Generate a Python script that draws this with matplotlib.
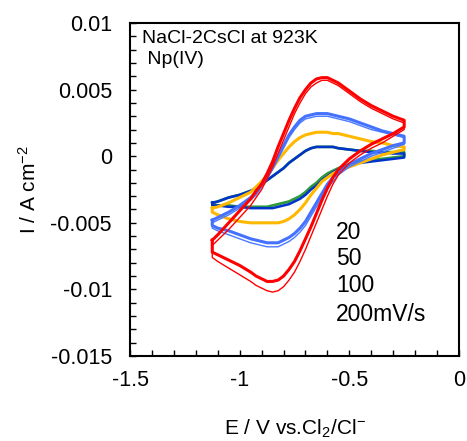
import numpy as np
import matplotlib
matplotlib.use("Agg")
from matplotlib import pyplot as plt
from matplotlib.ticker import MultipleLocator

plt.rcParams['font.family'] = ['Liberation Sans', 'DejaVu Sans']
plt.rcParams['mathtext.fontset'] = 'custom'
plt.rcParams['mathtext.rm'] = 'Liberation Sans'
plt.rcParams['mathtext.it'] = 'Liberation Sans'

# potential grid (V vs Cl2/Cl-), shared by every sweep
e_grid = [-1.125, -1.1, -1.05, -1.0, -0.95, -0.925, -0.9, -0.875, -0.85, -0.825,
          -0.8, -0.775, -0.75, -0.725, -0.7, -0.675, -0.65, -0.625, -0.6, -0.575,
          -0.55, -0.5, -0.45, -0.4, -0.35, -0.3, -0.25]

# 200 mV/s (red): ox = anodic (upper) branch, rd = cathodic (lower) branch
red_ox1 = [-0.0063, -0.0059, -0.0050, -0.0041, -0.0032, -0.0026, -0.0021, -0.0013, -0.0004, 0.0007,
           0.0017, 0.0027, 0.0036, 0.0044, 0.0050, 0.0055, 0.0058, 0.0059, 0.0059, 0.0057,
           0.0055, 0.0049, 0.0043, 0.0038, 0.0034, 0.0030, 0.0027]
red_rd1 = [-0.0072, -0.0074, -0.0078, -0.0082, -0.0087, -0.0090, -0.0092, -0.0094, -0.0094, -0.0093,
           -0.0090, -0.0085, -0.0079, -0.0071, -0.0062, -0.0053, -0.0043, -0.0033, -0.0024, -0.0016,
           -0.0010, -0.0002, 0.0004, 0.0009, 0.0013, 0.0017, 0.0022]
red_ox2 = [-0.0067, -0.0063, -0.0055, -0.0046, -0.0037, -0.0031, -0.0025, -0.0017, -0.0008, 0.0002,
           0.0012, 0.0022, 0.0032, 0.0040, 0.0047, 0.0052, 0.0055, 0.0057, 0.0057, 0.0055,
           0.0053, 0.0047, 0.0041, 0.0036, 0.0032, 0.0028, 0.0025]
red_rd2 = [-0.0076, -0.0079, -0.0084, -0.0089, -0.0094, -0.0097, -0.0099, -0.0101, -0.0102, -0.0101,
           -0.0098, -0.0093, -0.0087, -0.0079, -0.0070, -0.0060, -0.0050, -0.0040, -0.0030, -0.0021,
           -0.0014, -0.0005, 0.0001, 0.0006, 0.0010, 0.0015, 0.0020]

# 100 mV/s (light blue)
lb_ox1 = [-0.0048, -0.0046, -0.0042, -0.0037, -0.0031, -0.0027, -0.0021, -0.0015, -0.0008, 0.0000,
          0.0008, 0.0016, 0.0022, 0.0027, 0.0030, 0.0031, 0.0032, 0.0032, 0.0032, 0.0031,
          0.0030, 0.0028, 0.0025, 0.0022, 0.0019, 0.0017, 0.0015]
lb_rd1 = [-0.0052, -0.0054, -0.0056, -0.0059, -0.0062, -0.0063, -0.0064, -0.0065, -0.0065, -0.0065,
          -0.0063, -0.0061, -0.0058, -0.0054, -0.0049, -0.0042, -0.0035, -0.0028, -0.0021, -0.0016,
          -0.0012, -0.0006, -0.0002, 0.0002, 0.0005, 0.0008, 0.0010]
lb_ox2 = [-0.0050, -0.0048, -0.0044, -0.0039, -0.0033, -0.0029, -0.0023, -0.0017, -0.0010, -0.0002,
          0.0006, 0.0014, 0.0020, 0.0025, 0.0028, 0.0029, 0.0030, 0.0030, 0.0030, 0.0029,
          0.0028, 0.0026, 0.0023, 0.0020, 0.0018, 0.0016, 0.0014]
lb_rd2 = [-0.0054, -0.0056, -0.0059, -0.0062, -0.0065, -0.0066, -0.0067, -0.0068, -0.0068, -0.0068,
          -0.0066, -0.0064, -0.0061, -0.0057, -0.0052, -0.0045, -0.0038, -0.0031, -0.0024, -0.0019,
          -0.0014, -0.0008, -0.0004, 0.0000, 0.0003, 0.0006, 0.0009]

# 50 mV/s (yellow)
ye_ox1 = [-0.0039, -0.0038, -0.0035, -0.0031, -0.0027, -0.0023, -0.0019, -0.0014, -0.0009, -0.0003,
          0.0002, 0.0007, 0.0011, 0.0014, 0.0016, 0.0017, 0.0018, 0.0018, 0.0018, 0.0017,
          0.0017, 0.0015, 0.0013, 0.0011, 0.0010, 0.0008, 0.0007]
ye_rd1 = [-0.0042, -0.0044, -0.0047, -0.0049, -0.0050, -0.0050, -0.0050, -0.0050, -0.0050, -0.0050,
          -0.0049, -0.0047, -0.0044, -0.0040, -0.0035, -0.0029, -0.0024, -0.0019, -0.0016, -0.0013,
          -0.0011, -0.0008, -0.0005, -0.0002, 0.0001, 0.0003, 0.0005]

# 20 mV/s (dark blue, second cycle green)
db_ox1 = [-0.0035, -0.0034, -0.0031, -0.0029, -0.0026, -0.0024, -0.0021, -0.0018, -0.0015, -0.0012,
          -0.0009, -0.0005, -0.0002, 0.0001, 0.0004, 0.0006, 0.0007, 0.0007, 0.0007, 0.0007,
          0.0006, 0.0005, 0.0004, 0.0003, 0.0003, 0.0002, 0.0002]
db_rd1 = [-0.0037, -0.0037, -0.0038, -0.0038, -0.0039, -0.0039, -0.0039, -0.0039, -0.0039, -0.0038,
          -0.0037, -0.0036, -0.0034, -0.0032, -0.0029, -0.0025, -0.0022, -0.0018, -0.0015, -0.0012,
          -0.0010, -0.0007, -0.0005, -0.0004, -0.0003, -0.0002, -0.0001]
gr_ox2 = [-0.0035, -0.0034, -0.0031, -0.0029, -0.0026, -0.0024, -0.0021, -0.0018, -0.0015, -0.0012,
          -0.0009, -0.0005, -0.0002, 0.0001, 0.0004, 0.0006, 0.0007, 0.0007, 0.0007, 0.0007,
          0.0006, 0.0005, 0.0004, 0.0004, 0.0003, 0.0003, 0.0003]
gr_rd2 = [-0.0036, -0.0037, -0.0037, -0.0038, -0.0038, -0.0038, -0.0038, -0.0038, -0.0037, -0.0036,
          -0.0035, -0.0034, -0.0032, -0.0030, -0.0027, -0.0023, -0.0020, -0.0016, -0.0013, -0.0011,
          -0.0009, -0.0006, -0.0004, -0.0003, -0.0002, -0.0001, 0.0000]

rate_labels = ['20', '50', '100', '200mV/s']


def loop(ox, rd):
    # anodic sweep left->right, cathodic sweep back, then close at the start
    e = np.concatenate([e_grid, e_grid[::-1], e_grid[:1]])
    i = np.concatenate([ox, rd[::-1], ox[:1]])
    return e, i


fig = plt.figure(figsize=(4.67, 4.41), dpi=100)
ax = fig.add_axes([0.2784, 0.1927, 0.7045, 0.7551])

ax.plot(*loop(gr_ox2, gr_rd2), color='#2E9A3E', lw=2.0)
ax.plot(*loop(db_ox1, db_rd1), color='#0033CC', lw=1.8)
ax.plot(*loop(ye_ox1, ye_rd1), color='#FFB800', lw=2.2)
ax.plot(*loop(lb_ox2, lb_rd2), color='#4A7BFF', lw=1.0)
ax.plot(*loop(lb_ox1, lb_rd1), color='#4472FF', lw=2.2)
ax.plot(*loop(red_ox2, red_rd2), color='#FF0000', lw=1.0)
ax.plot(*loop(red_ox1, red_rd1), color='#FF0000', lw=2.2)

ax.set_xlim(-1.5, 0)
ax.set_ylim(-0.015, 0.01)
ax.xaxis.set_minor_locator(MultipleLocator(0.1))
ax.yaxis.set_minor_locator(MultipleLocator(0.001))
ax.set_xticks([-1.5, -1.0, -0.5, 0.0])
ax.set_xticklabels(['-1.5', '-1', '-0.5', '0'])
ax.set_yticks([-0.015, -0.01, -0.005, 0.0, 0.005, 0.01])
ax.set_yticklabels(['-0.015', '-0.01', '-0.005', '0', '0.005', '0.01'])
ax.tick_params(which='both', direction='in', length=4, width=1, labelsize=15.5)
ax.tick_params(axis='x', pad=10)
ax.tick_params(axis='y', pad=13)
for s in ax.spines.values():
    s.set_linewidth(1.5)

ax.set_xlabel('E / V vs.Cl$_2$/Cl$^{-}$', fontsize=15)
ax.xaxis.set_label_coords(0.5, -0.185)
ax.set_ylabel('I / A cm$^{-2}$', fontsize=15)
ax.yaxis.set_label_coords(-0.275, 0.5)

ax.text(0.036, 0.955, 'NaCl-2CsCl at 923K', transform=ax.transAxes,
        fontsize=14, va='center', ha='left')
ax.text(0.036, 0.889, ' Np(IV)', transform=ax.transAxes,
        fontsize=14, va='center', ha='left')

ys = [0.372, 0.294, 0.213, 0.126]
for lab, y in zip(rate_labels, ys):
    ax.text(0.626, y, lab, transform=ax.transAxes, fontsize=16.5,
            va='center', ha='left')

fig.savefig('out.png', dpi=100)
